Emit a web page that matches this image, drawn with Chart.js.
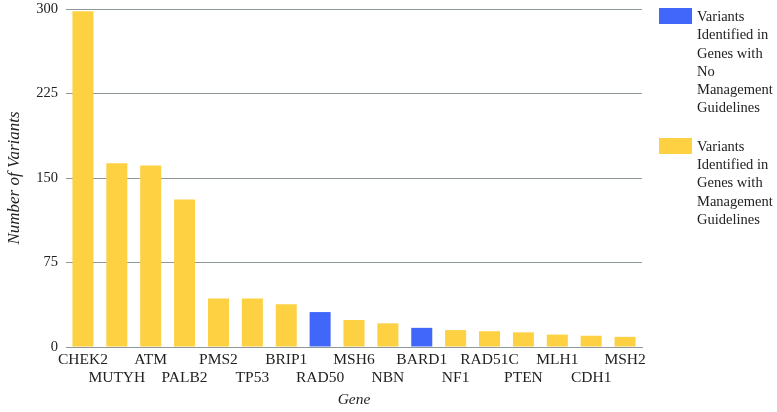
<!DOCTYPE html>
<html lang="en">
<head>
  <meta charset="UTF-8">
  <title>Variants by Gene</title>
  <script src="https://cdn.jsdelivr.net/npm/chart.js"></script>
  <style>
    html, body { margin: 0; padding: 0; background: #fff; }
    #wrap { position: relative; width: 777px; height: 412px; }
    #legend {
      position: absolute;
      left: 659px;
      top: 8px;
      font-family: "Liberation Serif", "Times New Roman", serif;
      font-size: 14.5px;
      line-height: 18.3px;
      color: #222;
    }
    .item { display: flex; align-items: flex-start; margin-bottom: 21px; }
    .swatch { width: 33px; height: 16px; margin-right: 5px; flex: none; }
    .text { width: 80px; margin-top: -1px; }
  </style>
</head>
<body>
<div id="wrap">
  <canvas id="geneChart" width="777" height="412"></canvas>
  <div id="legend"></div>
</div>
<script>
  // data
  const genes = ['CHEK2', 'MUTYH', 'ATM', 'PALB2', 'PMS2', 'TP53', 'BRIP1', 'RAD50', 'MSH6',
                 'NBN', 'BARD1', 'NF1', 'RAD51C', 'PTEN', 'MLH1', 'CDH1', 'MSH2'];
  const variantCounts = [298, 163, 161, 131, 43, 43, 38, 31, 24, 21, 17, 15, 14, 13, 11, 10, 9];
  const noGuidelineGenes = ['RAD50', 'BARD1'];
  const yTicks = [0, 75, 150, 225, 300];

  const BLUE = '#4066fa';
  const YELLOW = '#fdd142';
  const GRID = '#8e9898';
  const serif = '"Liberation Serif", "Times New Roman", serif';

  const noGuideValues = genes.map((g, i) => noGuidelineGenes.includes(g) ? variantCounts[i] : null);
  const guideValues = genes.map((g, i) => noGuidelineGenes.includes(g) ? null : variantCounts[i]);

  const ctx = document.getElementById('geneChart').getContext('2d');
  const chart = new Chart(ctx, {
    type: 'bar',
    data: {
      labels: genes,
      datasets: [
        {
          label: 'Variants Identified in Genes with No Management Guidelines',
          data: noGuideValues,
          backgroundColor: BLUE,
        },
        {
          label: 'Variants Identified in Genes with Management Guidelines',
          data: guideValues,
          backgroundColor: YELLOW,
        },
      ],
    },
    options: {
      responsive: false,
      animation: false,
      barPercentage: 0.62,
      categoryPercentage: 1,
      layout: { padding: { top: 9, right: 135, left: 0, bottom: 0 } },
      plugins: {
        legend: { display: false },
        tooltip: { enabled: false },
      },
      scales: {
        x: {
          stacked: true,
          grid: { display: false, drawTicks: false },
          border: { color: GRID, width: 1 },
          ticks: {
            autoSkip: false,
            maxRotation: 0,
            minRotation: 0,
            padding: 4,
            color: '#222',
            font: { family: serif, size: 15.5, lineHeight: 1.15 },
            // alternate labels between two rows
            callback: function(value, index) {
              const name = genes[index];
              return index % 2 === 0 ? [name, ''] : ['', name];
            },
          },
          title: {
            display: true,
            text: 'Gene',
            color: '#222',
            font: { family: serif, size: 15.5, style: 'italic' },
            padding: { top: 2, bottom: 3 },
          },
          afterFit: function(scale) { scale.height = 65; },
        },
        y: {
          stacked: true,
          min: 0,
          max: 300,
          afterBuildTicks: function(scale) {
            scale.ticks = yTicks.map(v => ({ value: v }));
          },
          grid: { color: GRID, drawTicks: false },
          border: { display: false },
          ticks: {
            padding: 8,
            color: '#222',
            font: { family: serif, size: 14.5 },
          },
          title: {
            display: true,
            text: 'Number of Variants',
            color: '#222',
            font: { family: serif, size: 17, style: 'italic' },
            padding: { top: 4, bottom: 0 },
          },
          afterFit: function(scale) {
            scale.width = 66;
            scale.paddingTop = 0;
            scale.paddingBottom = 0;
          },
        },
      },
    },
  });

  // html legend built from the datasets
  const legend = document.getElementById('legend');
  chart.data.datasets.forEach(ds => {
    const item = document.createElement('div');
    item.className = 'item';
    const sw = document.createElement('div');
    sw.className = 'swatch';
    sw.style.background = ds.backgroundColor;
    const tx = document.createElement('div');
    tx.className = 'text';
    tx.textContent = ds.label;
    item.appendChild(sw);
    item.appendChild(tx);
    legend.appendChild(item);
  });
</script>
</body>
</html>
